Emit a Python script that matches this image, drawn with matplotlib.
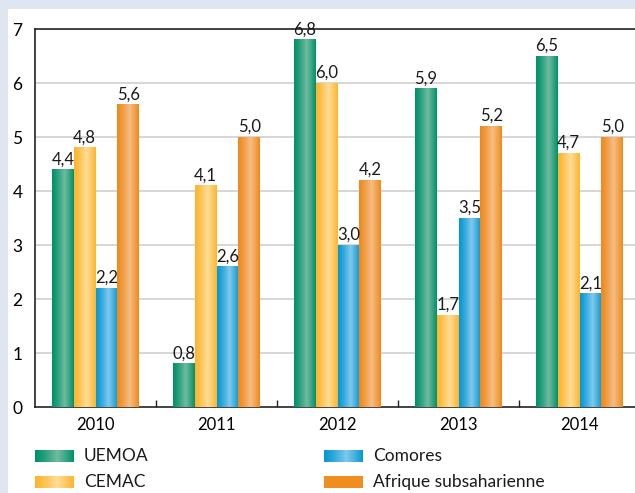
import numpy as np
import matplotlib
matplotlib.use("Agg")
import matplotlib.pyplot as plt
from matplotlib.colors import LinearSegmentedColormap
from matplotlib.patches import Rectangle

plt.rcParams['font.family'] = ['Lato', 'DejaVu Sans']

years = ["2010", "2011", "2012", "2013", "2014"]
series = ["UEMOA", "CEMAC", "Comores", "Afrique subsaharienne"]
uemoa = [4.4, 0.8, 6.8, 5.9, 6.5]
cemac = [4.8, 4.1, 6.0, 1.7, 4.7]
comores = [2.2, 2.6, 3.0, 3.5, 2.1]
afrique = [5.6, 5.0, 4.2, 5.2, 5.0]
values = [uemoa, cemac, comores, afrique]

# (dark edge, light centre) for the cylinder-ish gradient
shades = [
    ("#00916a", "#72bb9f"),
    ("#fdb52c", "#fedd9a"),
    ("#0897d4", "#80c9ec"),
    ("#ee8a1c", "#f6be86"),
]
cmaps = [LinearSegmentedColormap.from_list("g%d" % i, [d, l, d]) for i, (d, l) in enumerate(shades)]
grad = np.linspace(0, 1, 64).reshape(1, -1) ** 1.25

W, H = 635, 493
fig = plt.figure(figsize=(W / 100, H / 100), dpi=100)
fig.patch.set_facecolor("#dfe6f2")
fig.patches.append(Rectangle((8 / W, 0), 1, 1 - 9 / H, transform=fig.transFigure,
                             facecolor="white", edgecolor="none", zorder=-1))

ax = fig.add_axes([35 / W, 1 - 407 / H, 605 / W, 378 / H])
ax.set_facecolor("none")

bw = 0.18
x = np.arange(len(years))
for i, vals in enumerate(values):
    off = (i - 1.5) * bw
    for xi, v in zip(x, vals):
        x0 = xi + off - bw / 2
        ax.imshow(grad, cmap=cmaps[i], extent=(x0, x0 + bw, 0, v), aspect="auto",
                  interpolation="bilinear", zorder=3)
        ax.text(xi + off, v + 0.04, f"{v:.1f}".replace(".", ","), ha="center", va="bottom",
                fontsize=12, color="#1a1a1a", zorder=4)

ax.set_xlim(-0.5, len(years) - 0.5)
ax.set_ylim(0, 7)
ax.set_yticks(range(8))
ax.set_yticklabels([str(i) for i in range(8)], fontsize=12.5)
ax.tick_params(axis="y", length=0, pad=9)
ax.set_xticks(x)
ax.set_xticklabels(years, fontsize=12)
ax.tick_params(axis="x", length=0, pad=7)
ax.set_xticks(x[:-1] + 0.5, minor=True)
ax.tick_params(axis="x", which="minor", direction="in", length=5, width=1, color="#222222")
for yv in range(1, 7):
    ax.axhline(yv, color="#cfcfcf", lw=1.2, zorder=1)
for s in ["left", "bottom", "top"]:
    ax.spines[s].set_color("#222222")
    ax.spines[s].set_linewidth(1.2)
ax.spines["right"].set_visible(False)

# legend drawn in pixel coords
lg = fig.add_axes([0, 0, 1, 1], facecolor="none")
lg.set_xlim(0, W)
lg.set_ylim(H, 0)
lg.axis("off")
legend_pos = [(35, 450), (35, 476), (324, 450), (324, 476)]
for i, (lx, ly) in enumerate(legend_pos):
    if i == 3:
        lg.add_patch(Rectangle((lx, ly), 39, 12, facecolor="#f08d1f", edgecolor="none"))
    else:
        lg.imshow(grad, cmap=cmaps[i], extent=(lx, lx + 39, ly + 12, ly), aspect="auto",
                  interpolation="bilinear")
    lg.text(lx + 49, ly + 6, series[i], ha="left", va="center", fontsize=12.5, color="#1a1a1a")
lg.set_xlim(0, W)
lg.set_ylim(H, 0)

fig.savefig("out.png", dpi=100, facecolor=fig.get_facecolor())
